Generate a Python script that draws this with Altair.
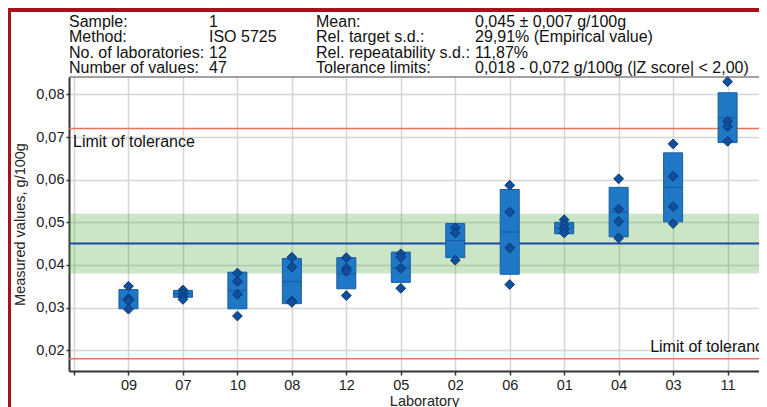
import altair as alt
import pandas as pd

# ---------------- data ----------------
labs = ["09", "07", "10", "08", "12", "05", "02", "06", "01", "04", "03", "11"]
box_low = [0.0297, 0.0324, 0.0297, 0.0309, 0.0344, 0.0359, 0.0417, 0.0378, 0.0473, 0.0466, 0.0501, 0.0687]
box_high = [0.0342, 0.0340, 0.0383, 0.0415, 0.0417, 0.0430, 0.0497, 0.0577, 0.0500, 0.0582, 0.0663, 0.0804]
box_mean = [0.0319, 0.0332, 0.0340, 0.0361, 0.0379, 0.0393, 0.0457, 0.0477, 0.0487, 0.0524, 0.0582, 0.0745]
lab_values = [
    [0.0350, 0.0321, 0.0316, 0.0296],
    [0.0341, 0.0333, 0.0325, 0.0319],
    [0.0381, 0.0361, 0.0331, 0.0280],
    [0.0418, 0.0395, 0.0315, 0.0312],
    [0.0417, 0.0392, 0.0385, 0.0328],
    [0.0426, 0.0418, 0.0392, 0.0345],
    [0.0487, 0.0475, 0.0411],
    [0.0587, 0.0524, 0.0440, 0.0354],
    [0.0506, 0.0495, 0.0484, 0.0475],
    [0.0602, 0.0531, 0.0502, 0.0463],
    [0.0684, 0.0608, 0.0537, 0.0497],
    [0.0830, 0.0737, 0.0725, 0.0690],
]
mean_value = 0.045
target_sd = 0.007
tol_low = 0.018
tol_high = 0.072
y_ticks = [0.02, 0.03, 0.04, 0.05, 0.06, 0.07, 0.08]
limit_label = "Limit of tolerance"

info_keys_1 = ["Sample:", "Method:", "No. of laboratories:", "Number of values:"]
info_vals_1 = ["1", "ISO 5725", "12", "47"]
info_keys_2 = ["Mean:", "Rel. target s.d.:", "Rel. repeatability s.d.:", "Tolerance limits:"]
info_vals_2 = ["0,045 ± 0,007 g/100g", "29,91% (Empirical value)", "11,87%",
               "0,018 - 0,072 g/100g (|Z score| < 2,00)"]

# ---------------- tables ----------------
idx = list(range(1, len(labs) + 1))
box_df = pd.DataFrame({"idx": idx, "lab": labs, "low": box_low, "high": box_high, "mean": box_mean})
pts_df = pd.DataFrame([{"idx": i + 1, "v": v} for i, vs in enumerate(lab_values) for v in vs])
ref_df = pd.DataFrame({"m": [mean_value], "lo": [mean_value - target_sd], "hi": [mean_value + target_sd],
                       "tl": [tol_low], "th": [tol_high]})

W, H = 690, 294
FONT = "Liberation Sans"

lab_expr = "[" + ",".join("'%s'" % l for l in labs) + "]"
x_axis = alt.Axis(values=[0] + idx, labelExpr="datum.value < 1 ? '' : %s[datum.value - 1]" % lab_expr,
                  title="Laboratory", grid=True, gridColor="#d6d6d6", gridWidth=1.5,
                  domainColor="#333333", domainWidth=2, tickColor="#333333", tickSize=4, tickWidth=1.5,
                  labelPadding=3, labelFontSize=14.5, labelColor="#222222", labelFont=FONT,
                  titleFontSize=14.5, titleFontWeight="normal", titleColor="#222222", titleFont=FONT,
                  titlePadding=3, titleX=355, titleAnchor="start", titleAlign="center")
y_axis = alt.Axis(values=y_ticks, labelExpr="replace(format(datum.value, '.2f'), '.', ',')",
                  title="Measured values, g/100g", grid=True, gridColor="#d6d6d6", gridWidth=1.5,
                  domainColor="#333333", domainWidth=2, tickColor="#333333", tickSize=3, tickWidth=1.5,
                  labelPadding=2, labelFontSize=14.5, labelColor="#222222", labelFont=FONT,
                  titleFontSize=14.5, titleFontWeight="normal", titleColor="#222222", titleFont=FONT,
                  titlePadding=8)
x_scale = alt.Scale(domain=[0, 12.485], nice=False, zero=False)
y_scale = alt.Scale(domain=[0.0151, 0.0841], nice=False, zero=False)


def X(field):
    return alt.X(field, type="quantitative", scale=x_scale, axis=x_axis)


def Y(field):
    return alt.Y(field, type="quantitative", scale=y_scale, axis=y_axis)


band = alt.Chart(ref_df).mark_rect(color="#3fa535", opacity=0.28).encode(y=Y("lo"), y2="hi")
red_hi = alt.Chart(ref_df).mark_rule(color="#f0705e", strokeWidth=1.5).encode(y=Y("th"))
red_lo = alt.Chart(ref_df).mark_rule(color="#f0705e", strokeWidth=1.5).encode(y=Y("tl"))
blue = alt.Chart(ref_df).mark_rule(color="#1a4aa8", strokeWidth=2).encode(y=Y("m"))

boxes = alt.Chart(box_df).mark_bar(size=19, color="#1f78c6", stroke="#1a5c9e", strokeWidth=1).encode(
    x=X("idx"), y=Y("low"), y2="high")
means = alt.Chart(box_df).mark_tick(orient="horizontal", size=19, thickness=1.3, color="#17549a").encode(
    x=X("idx"), y=Y("mean"))
points = alt.Chart(pts_df).mark_point(shape="diamond", filled=True, size=95, color="#0f4f9e",
                                      stroke="#0b3570", strokeWidth=1, opacity=1).encode(
    x=X("idx"), y=Y("v"))

txt_hi = alt.Chart(ref_df).mark_text(align="left", baseline="alphabetic", dy=18, fontSize=16, font=FONT,
                                     color="#111111").encode(
    x=alt.value(4), y=Y("th"), text=alt.value(limit_label))
txt_lo = alt.Chart(ref_df).mark_text(align="right", baseline="alphabetic", dy=-6.5, fontSize=16, font=FONT,
                                     color="#111111").encode(
    x=alt.value(703), y=Y("tl"), text=alt.value(limit_label))


def header(lines, xpos):
    return alt.Chart(ref_df).mark_text(align="left", baseline="alphabetic", fontSize=16, font=FONT,
                                       lineHeight=15.5, color="#111111").encode(
        x=alt.value(xpos), y=alt.value(-50.5), text=alt.value(lines))


top_rule = alt.Chart(ref_df).mark_rule(color="#444444", strokeWidth=1).encode(
    x=alt.value(0), x2=alt.value(W), y=alt.value(0))
frame_left = alt.Chart(ref_df).mark_rect(color="#a8101c").encode(
    x=alt.value(-61), x2=alt.value(-58), y=alt.value(-69), y2=alt.value(H + 36))
frame_top = alt.Chart(ref_df).mark_rect(color="#a8101c").encode(
    x=alt.value(-61), x2=alt.value(W), y=alt.value(-69), y2=alt.value(-65))

chart = alt.layer(
    band, red_hi, red_lo, blue, boxes, means, points, txt_hi, txt_lo,
    header(info_keys_1, 0), header(info_vals_1, 140), header(info_keys_2, 247), header(info_vals_2, 406),
    top_rule, frame_left, frame_top,
).properties(
    width=W, height=H,
    autosize=alt.AutoSizeParams(type="none"),
    padding={"left": 61, "top": 69, "right": 0, "bottom": 36},
    background="white",
).configure_view(stroke=None)

chart.save("out.html", embed_options={"renderer": "svg", "actions": False})
